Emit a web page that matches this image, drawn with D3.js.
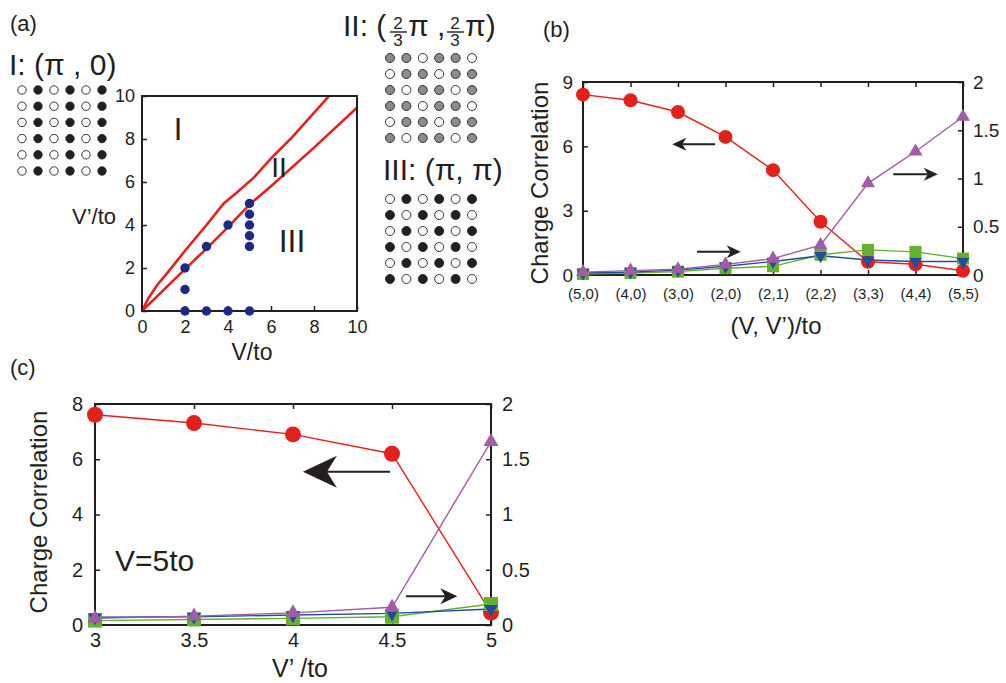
<!DOCTYPE html>
<html>
<head>
<meta charset="utf-8">
<script src="https://cdn.jsdelivr.net/npm/d3@7"></script>
<style>
  body { margin: 0; background: #fff; }
  text { font-family: "Liberation Sans", Arial, Helvetica, sans-serif; fill: #231f20; }
</style>
</head>
<body>
<svg id="fig" width="1006" height="683"></svg>
<script>
// ---------- data ----------
// (a) phase diagram
let upperV  = [0, 0.3, 0.7, 1.2, 2, 3, 3.8, 4.4, 5.2, 6, 7, 8.7];
let upperVp = [0, 0.6, 1.2, 1.8, 2.8, 4.0, 5.0, 5.5, 6.2, 7.1, 8.1, 10];
let lowerV  = [0, 2, 3, 4, 5, 6, 8, 10];
let lowerVp = [0, 1.95, 2.9, 3.9, 4.95, 5.8, 7.6, 9.45];
let dotsV   = [2, 3, 4, 5, 2, 2, 3, 4, 5, 5, 5, 5, 5];
let dotsVp  = [0, 0, 0, 0, 1, 2, 3, 4, 3, 3.5, 4, 4.5, 5];
let axisTicksA = [0, 2, 4, 6, 8, 10];

// charge patterns (W open, B black, G grey)
let patternI   = ["WBWBWB", "WBWBWB", "WBWBWB", "WBWBWB", "WBWBWB", "WBWBWB"];
let patternII  = ["GGWGGW", "WGGWGG", "GWGGWG", "GGWGGW", "WGGWGG", "GWGGWG"];
let patternIII = ["WBWBWB", "BWBWBW", "WBWBWB", "BWBWBW", "WBWBWB", "BWBWBW"];

// (b) charge correlation along the path
let catsB   = ["(5,0)", "(4,0)", "(3,0)", "(2,0)", "(2,1)", "(2,2)", "(3,3)", "(4,4)", "(5,5)"];
let redB    = [8.41, 8.15, 7.6, 6.44, 4.89, 2.48, 0.62, 0.5, 0.2];
let greenB  = [0.01, 0.02, 0.035, 0.07, 0.09, 0.21, 0.26, 0.24, 0.17];
let blueB   = [0.02, 0.03, 0.05, 0.09, 0.14, 0.2, 0.155, 0.14, 0.14];
let purpleB = [0.03, 0.045, 0.06, 0.11, 0.17, 0.31, 0.95, 1.28, 1.64];
let leftTicksB = [0, 3, 6, 9];
let rightTicksB = [0, 0.5, 1, 1.5, 2];

// (c) V = 5to
let vPrime  = [3, 3.5, 4, 4.5, 5];
let redC    = [7.61, 7.31, 6.9, 6.2, 0.45];
let greenC  = [0.04, 0.05, 0.06, 0.075, 0.19];
let blueC   = [0.07, 0.075, 0.09, 0.105, 0.145];
let purpleC = [0.06, 0.08, 0.11, 0.16, 1.66];
let leftTicksC = [0, 2, 4, 6, 8];
let rightTicksC = [0, 0.5, 1, 1.5, 2];

// ---------- style ----------
let FONT = '"Liberation Sans", Arial, Helvetica, sans-serif';
let INK = "#231f20";
let RED = "#e3211c", GREEN = "#66b030", BLUE = "#1f4e9e", PURPLE = "#a45ba7";
let NAVY = "#1c2a86", GREY = "#8c8c8c";

let svg = d3.select("#fig");
svg.append("rect").attr("width", 1006).attr("height", 683).attr("fill", "#fff");

function label(x, y, txt, size, anchor) {
  return svg.append("text").attr("x", x).attr("y", y)
    .attr("font-size", size).attr("text-anchor", anchor || "start").text(txt);
}

function styleAxis(g, size) {
  g.attr("font-family", FONT).attr("font-size", size).attr("color", INK);
  g.select(".domain").remove();
  g.selectAll(".tick line").attr("stroke-width", 1.5);
}

function arrow(x1, x2, y, len, half, notch, sw) {
  let dir = x2 > x1 ? 1 : -1;
  svg.append("line")
    .attr("x1", x1).attr("x2", x2 - dir * (len - notch))
    .attr("y1", y).attr("y2", y)
    .attr("stroke", INK).attr("stroke-width", sw);
  svg.append("path")
    .attr("d", "M" + x2 + "," + y +
               "L" + (x2 - dir * len) + "," + (y - half) +
               "L" + (x2 - dir * (len - notch)) + "," + y +
               "L" + (x2 - dir * len) + "," + (y + half) + "Z")
    .attr("fill", INK);
}

// ================= (a) =================
label(10, 31, "(a)", 22);

let xA = d3.scaleLinear().domain([0, 10]).range([142, 357]);
let yA = d3.scaleLinear().domain([0, 10]).range([311, 96]);

let axA = svg.append("g").attr("transform", "translate(0,311)")
  .call(d3.axisBottom(xA).tickValues(axisTicksA).tickSize(-5).tickSizeOuter(0).tickPadding(9));
styleAxis(axA, 18);
let ayA = svg.append("g").attr("transform", "translate(142,0)")
  .call(d3.axisLeft(yA).tickValues(axisTicksA).tickSize(-5).tickSizeOuter(0).tickPadding(7));
styleAxis(ayA, 18);

svg.append("clipPath").attr("id", "clipA").append("rect")
  .attr("x", 142).attr("y", 96).attr("width", 215).attr("height", 215);

let lineA = d3.line().x(d => xA(d[0])).y(d => yA(d[1]));
svg.append("path").datum(d3.zip(upperV, upperVp)).attr("d", lineA)
  .attr("fill", "none").attr("stroke", RED).attr("stroke-width", 2.6).attr("clip-path", "url(#clipA)");
svg.append("path").datum(d3.zip(lowerV, lowerVp)).attr("d", lineA)
  .attr("fill", "none").attr("stroke", RED).attr("stroke-width", 2.6).attr("clip-path", "url(#clipA)");

svg.append("rect").attr("x", 142).attr("y", 96).attr("width", 215).attr("height", 215)
  .attr("fill", "none").attr("stroke", INK).attr("stroke-width", 2);

svg.selectAll(".pdot").data(d3.zip(dotsV, dotsVp)).enter().append("circle")
  .attr("class", "pdot")
  .attr("cx", d => xA(d[0])).attr("cy", d => yA(d[1])).attr("r", 4.7)
  .attr("fill", NAVY);

label(178, 140, "I", 31, "middle");
label(279, 177, "II", 28, "middle");
label(292, 252, "III", 32, "middle");
label(252, 360, "V/to", 23, "middle");
label(116, 224, "V\u2019/to", 22, "end");

// patterns
function drawPattern(rows, x0, x1, y0, y1, r) {
  let cx = d3.scalePoint().domain(d3.range(6)).range([x0, x1]);
  let cy = d3.scalePoint().domain(d3.range(rows.length)).range([y0, y1]);
  let cells = [];
  rows.forEach((row, j) => row.split("").forEach((c, i) => cells.push({ i: i, j: j, c: c })));
  svg.append("g").selectAll("circle").data(cells).enter().append("circle")
    .attr("cx", d => cx(d.i)).attr("cy", d => cy(d.j)).attr("r", r)
    .attr("fill", d => d.c == "B" ? INK : d.c == "G" ? GREY : "#fff")
    .attr("stroke", INK).attr("stroke-width", 0.9);
}
drawPattern(patternI, 22, 102, 90, 171, 4.2);
drawPattern(patternII, 390, 472, 58, 138, 4.5);
drawPattern(patternIII, 390, 472, 199, 279, 4.5);

// pattern titles
label(9, 75, "I: (\u03c0 , 0)", 30);
label(343, 36, "II: (", 30);
label(398, 29, "2", 17, "middle");
label(398, 46, "3", 17, "middle");
svg.append("line").attr("x1", 390).attr("x2", 407).attr("y1", 32).attr("y2", 32).attr("stroke", INK).attr("stroke-width", 1.4);
label(408, 36, "\u03c0 ,", 30);
label(455, 29, "2", 17, "middle");
label(455, 46, "3", 17, "middle");
svg.append("line").attr("x1", 447).attr("x2", 464).attr("y1", 32).attr("y2", 32).attr("stroke", INK).attr("stroke-width", 1.4);
label(465, 36, "\u03c0)", 30);
label(383, 180, "III: (\u03c0, \u03c0)", 30);

// ================= (b) =================
label(543, 37, "(b)", 22);

let xB = d3.scalePoint().domain(catsB).range([583, 963]);
let xBi = d3.scaleLinear().domain([0, catsB.length - 1]).range([583, 963]);
let yBL = d3.scaleLinear().domain([0, 9]).range([275, 82]);
let yBR = d3.scaleLinear().domain([0, 2]).range([275, 82]);

let gb;
gb = svg.append("g").attr("transform", "translate(0,275)")
  .call(d3.axisBottom(xB).tickSize(-5).tickSizeOuter(0).tickPadding(13));
styleAxis(gb, 15);
gb = svg.append("g").attr("transform", "translate(0,82)")
  .call(d3.axisTop(xB).tickSize(-5).tickSizeOuter(0).tickFormat(""));
styleAxis(gb, 15);
gb = svg.append("g").attr("transform", "translate(583,0)")
  .call(d3.axisLeft(yBL).tickValues(leftTicksB).tickSize(-5).tickSizeOuter(0).tickPadding(10));
styleAxis(gb, 19);
gb = svg.append("g").attr("transform", "translate(963,0)")
  .call(d3.axisRight(yBR).tickValues(rightTicksB).tickSize(-5).tickSizeOuter(0).tickPadding(10).tickFormat(d3.format("")));
styleAxis(gb, 19);

svg.append("rect").attr("x", 583).attr("y", 82).attr("width", 380).attr("height", 193)
  .attr("fill", "none").attr("stroke", INK).attr("stroke-width", 2);

svg.append("text").attr("transform", "translate(548,183) rotate(-90)")
  .attr("font-size", 24).attr("text-anchor", "middle").text("Charge Correlation");
label(776, 334, "(V, V\u2019)/to", 24, "middle");

function drawSeries(xs, ys, xScale, yScale, color, shape, size) {
  let pts = d3.zip(xs, ys);
  svg.append("path").datum(pts)
    .attr("d", d3.line().x(d => xScale(d[0])).y(d => yScale(d[1])))
    .attr("fill", "none").attr("stroke", color).attr("stroke-width", 1.4);
  return function () {
    let g = svg.append("g");
    if (shape == "circle") {
      g.selectAll("circle").data(pts).enter().append("circle")
        .attr("cx", d => xScale(d[0])).attr("cy", d => yScale(d[1])).attr("r", size / 2)
        .attr("fill", color);
    } else if (shape == "square") {
      g.selectAll("rect").data(pts).enter().append("rect")
        .attr("x", d => xScale(d[0]) - size / 2).attr("y", d => yScale(d[1]) - size / 2)
        .attr("width", size).attr("height", size).attr("fill", color);
    } else {
      let sym = d3.symbol().type(d3.symbolTriangle).size(size * size * Math.sqrt(3) / 4);
      g.selectAll("path").data(pts).enter().append("path")
        .attr("d", sym)
        .attr("transform", d => "translate(" + xScale(d[0]) + "," + yScale(d[1]) + ")" + (shape == "down" ? " rotate(180)" : ""))
        .attr("fill", color);
    }
  };
}

let bMarks = [
  drawSeries(catsB, redB, xB, yBL, RED, "circle", 14),
  drawSeries(catsB, greenB, xB, yBR, GREEN, "square", 12),
  drawSeries(catsB, blueB, xB, yBR, BLUE, "down", 13),
  drawSeries(catsB, purpleB, xB, yBR, PURPLE, "up", 14)
];
bMarks.forEach(f => f());

arrow(xBi(2.78), xBi(1.88), yBL(6.1), 14, 6.5, 4, 2);
arrow(xBi(2.4), xBi(3.32), yBR(0.24), 14, 6.5, 4, 2);
arrow(xBi(6.53), xBi(7.47), yBR(1.045), 14, 6.5, 4, 2);

// ================= (c) =================
label(10, 375, "(c)", 22);

let xC = d3.scaleLinear().domain([3, 5]).range([95, 491]);
let yCL = d3.scaleLinear().domain([0, 8]).range([625, 404]);
let yCR = d3.scaleLinear().domain([0, 2]).range([625, 404]);

let gc;
gc = svg.append("g").attr("transform", "translate(0,625)")
  .call(d3.axisBottom(xC).tickValues(vPrime).tickSize(-5).tickSizeOuter(0).tickPadding(8).tickFormat(d3.format("")));
styleAxis(gc, 20);
gc = svg.append("g").attr("transform", "translate(0,404)")
  .call(d3.axisTop(xC).tickValues(vPrime).tickSize(-5).tickSizeOuter(0).tickFormat(""));
styleAxis(gc, 20);
gc = svg.append("g").attr("transform", "translate(95,0)")
  .call(d3.axisLeft(yCL).tickValues(leftTicksC).tickSize(-5).tickSizeOuter(0).tickPadding(12));
styleAxis(gc, 20);
gc = svg.append("g").attr("transform", "translate(491,0)")
  .call(d3.axisRight(yCR).tickValues(rightTicksC).tickSize(-5).tickSizeOuter(0).tickPadding(11).tickFormat(d3.format("")));
styleAxis(gc, 20);

svg.append("rect").attr("x", 95).attr("y", 404).attr("width", 396).attr("height", 221)
  .attr("fill", "none").attr("stroke", INK).attr("stroke-width", 2);

svg.append("text").attr("transform", "translate(47,512) rotate(-90)")
  .attr("font-size", 24).attr("text-anchor", "middle").text("Charge Correlation");
label(300, 677, "V\u2019 /to", 25, "middle");
label(115, 571, "V=5to", 30);

let cMarks = [
  drawSeries(vPrime, redC, xC, yCL, RED, "circle", 16),
  drawSeries(vPrime, greenC, xC, yCR, GREEN, "square", 14),
  drawSeries(vPrime, blueC, xC, yCR, BLUE, "down", 14),
  drawSeries(vPrime, purpleC, xC, yCR, PURPLE, "up", 15)
];
cMarks.forEach(f => f());

arrow(xC(4.49), xC(4.05), yCL(5.55), 34, 16, 10, 2);
arrow(xC(4.57), xC(4.83), yCR(0.26), 17, 8, 5, 2);
</script>
</body>
</html>
